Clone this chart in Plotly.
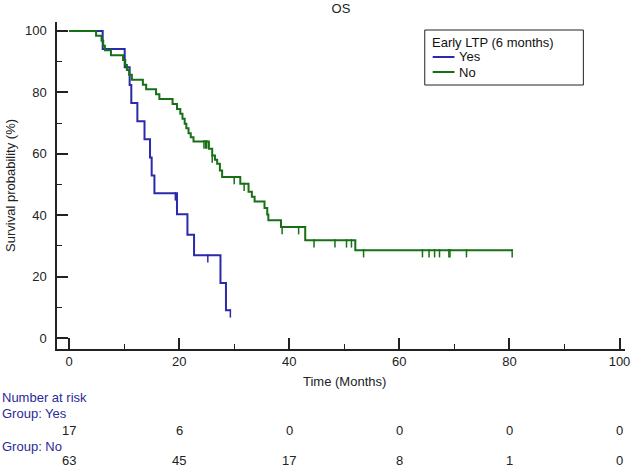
import plotly.graph_objects as go

# Kaplan-Meier steps (time in months, survival in %)
yes_times = [0, 6.1, 10.1, 11.0, 11.3, 12.4, 13.7, 14.7, 15.0, 15.5, 19.6, 21.5, 22.7, 27.5, 28.5]
yes_surv = [100, 94.1, 88.2, 82.4, 76.5, 70.6, 64.7, 58.8, 52.9, 47.1, 40.3, 33.6, 26.9, 17.9, 9.0]
yes_end = 29.3
yes_cens_t = [19.3, 25.2, 29.3]
yes_cens_s = [47.1, 26.9, 9.0]

no_times = [0, 4.9, 5.9, 6.2, 6.5, 7.6, 9.8, 10.2, 10.5, 10.9, 11.4, 13.4, 14.0, 15.8, 16.4,
            18.8, 19.6, 20.2, 20.6, 21.0, 21.3, 21.7, 22.1, 22.6, 25.4, 26.0, 26.5, 26.9, 27.4,
            27.8, 31.1, 32.6, 33.2, 33.7, 35.5, 36.0, 36.2, 38.5, 42.9, 52.0]
no_surv = [100, 98.4, 96.8, 95.2, 93.7, 92.1, 90.5, 88.9, 87.3, 85.7, 84.1, 82.5, 81.0, 79.4, 77.8,
           76.2, 74.6, 73.0, 71.4, 69.8, 68.3, 66.7, 65.4, 64.0, 61.6, 59.4, 58.0, 56.7, 54.5,
           52.4, 50.2, 47.6, 46.0, 44.4, 42.3, 40.2, 38.3, 36.1, 31.8, 28.6]
no_end = 80.5
no_cens_t = [24.5, 24.8, 25.0, 26.0, 30.0, 31.8, 38.7, 41.7, 44.5, 48.3, 50.4, 51.3,
             53.5, 64.2, 65.4, 66.4, 67.3, 69.0, 69.2, 72.2, 80.5]
no_cens_s = [64.0, 64.0, 64.0, 59.4, 52.4, 50.2, 36.1, 36.1, 31.8, 31.8, 31.8, 31.8,
             28.6, 28.6, 28.6, 28.6, 28.6, 28.6, 28.6, 28.6, 28.6]

risk_times = [0, 20, 40, 60, 80, 100]
risk_yes = [17, 6, 0, 0, 0, 0]
risk_no = [63, 45, 17, 8, 1, 0]

BLUE = "#2a2aaa"
GREEN = "#167016"
NAVY = "#2a2a99"
INK = "#222222"
FONT = "Liberation Sans, Arial, sans-serif"
FS = 13

fig = go.Figure()

groups = [
    ("Yes", yes_times, yes_surv, yes_end, yes_cens_t, yes_cens_s, BLUE),
    ("No", no_times, no_surv, no_end, no_cens_t, no_cens_s, GREEN),
]
for name, t, s, end, ct, cs, col in groups:
    fig.add_trace(go.Scatter(
        x=t + [end], y=s + [s[-1]], mode="lines", name=name, showlegend=False,
        line=dict(color=col, width=2, shape="hv"),
    ))
for name, t, s, end, ct, cs, col in groups:
    # censor ticks hang just below the curve
    fig.add_trace(go.Scatter(
        x=ct, y=[v - 1.0 for v in cs], mode="markers", showlegend=False,
        marker=dict(symbol="line-ns", size=6, line=dict(color=col, width=1.5)),
        hoverinfo="skip",
    ))

axis_common = dict(
    showline=True, linecolor=INK, linewidth=1.5,
    ticks="inside", ticklen=11, tickwidth=1.5, tickcolor=INK,
    showgrid=False, zeroline=False,
    tickfont=dict(family=FONT, size=FS, color=INK),
    minor=dict(ticks="inside", ticklen=5, tickwidth=1.2, tickcolor=INK, dtick=10),
)

fig.update_xaxes(range=[-2.2, 101.0], tick0=0, dtick=20, **axis_common)
fig.update_yaxes(range=[-3.6, 102.9], tick0=0, dtick=20, ticklabelstandoff=6, **axis_common)

# pixel helpers for the paper-positioned furniture (plot area 57..630 x 22..349)
def px(x):
    return (x - 57) / 573

def py(y):
    return (349 - y) / 327

annotations = [
    dict(text="Survival probability (%)", xref="paper", yref="paper", x=px(10), y=0.5,
         textangle=-90, showarrow=False, xanchor="center", yanchor="middle"),
    dict(text="Time (Months)", xref="x", yref="paper", x=50, y=py(381),
         showarrow=False, xanchor="center", yanchor="middle"),
    dict(text="Number at risk", xref="paper", yref="paper", x=px(0), y=py(397),
         showarrow=False, xanchor="left", yanchor="middle", font=dict(color=NAVY)),
    dict(text="Group: Yes", xref="paper", yref="paper", x=px(0), y=py(413),
         showarrow=False, xanchor="left", yanchor="middle", font=dict(color=NAVY)),
    dict(text="Group: No", xref="paper", yref="paper", x=px(0), y=py(446),
         showarrow=False, xanchor="left", yanchor="middle", font=dict(color=NAVY)),
    # legend
    dict(text="Early LTP (6 months)", xref="paper", yref="paper", x=px(433), y=py(42),
         showarrow=False, xanchor="left", yanchor="middle", font=dict(color="#111111")),
    dict(text="Yes", xref="paper", yref="paper", x=px(461), y=py(57),
         showarrow=False, xanchor="left", yanchor="middle", font=dict(color="#111111")),
    dict(text="No", xref="paper", yref="paper", x=px(461), y=py(72),
         showarrow=False, xanchor="left", yanchor="middle", font=dict(color="#111111")),
]
for t, a, b in zip(risk_times, risk_yes, risk_no):
    annotations.append(dict(text=str(a), xref="x", yref="paper", x=t, y=py(430),
                            showarrow=False, xanchor="center", yanchor="middle"))
    annotations.append(dict(text=str(b), xref="x", yref="paper", x=t, y=py(461),
                            showarrow=False, xanchor="center", yanchor="middle"))

shapes = [
    dict(type="rect", xref="paper", yref="paper", x0=px(428), x1=px(588), y0=py(85), y1=py(30),
         line=dict(color=INK, width=1), fillcolor="rgba(0,0,0,0)"),
    dict(type="line", xref="paper", yref="paper", x0=px(436), x1=px(458), y0=py(57), y1=py(57),
         line=dict(color=BLUE, width=2)),
    dict(type="line", xref="paper", yref="paper", x0=px(436), x1=px(458), y0=py(72), y1=py(72),
         line=dict(color=GREEN, width=2)),
]

fig.update_layout(
    width=640, height=468,
    margin=dict(l=57, r=10, t=22, b=119),
    paper_bgcolor="white", plot_bgcolor="white",
    font=dict(family=FONT, size=FS, color=INK),
    title=dict(text="OS", x=0.5, xref="paper", y=1 - 8 / 468, yanchor="middle",
               font=dict(family=FONT, size=FS, color=INK)),
    showlegend=False,
    shapes=shapes,
    annotations=annotations,
)

# page body has an 8px default margin; drop it so the figure sits at the window origin
fig.write_html("out.html", config={"displayModeBar": False},
               post_script="document.body.style.margin='0';")
